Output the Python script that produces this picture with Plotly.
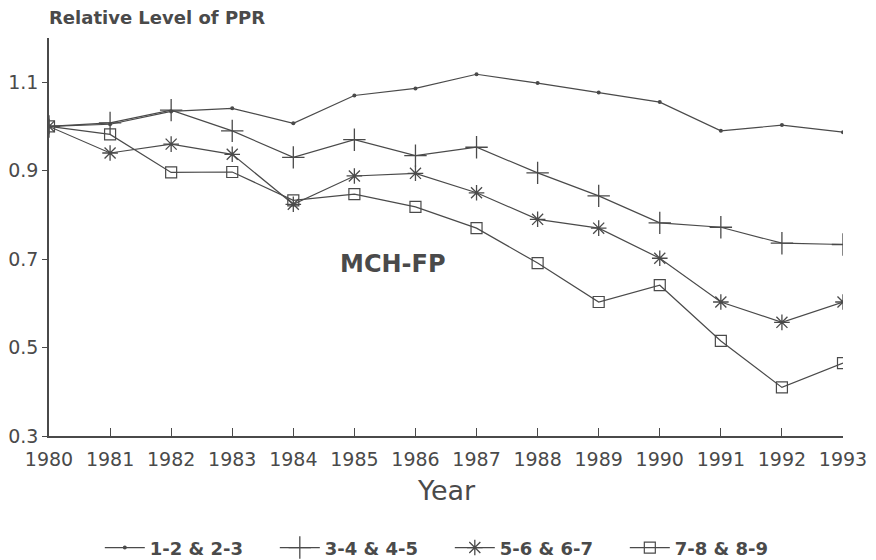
import plotly.graph_objects as go

years = list(range(1980, 1994))
s_12_23 = [1.0, 1.005, 1.034, 1.041, 1.007, 1.07, 1.086, 1.118, 1.098, 1.077, 1.055, 0.99, 1.003, 0.987]
s_34_45 = [1.0, 1.008, 1.037, 0.99, 0.93, 0.97, 0.934, 0.953, 0.895, 0.843, 0.782, 0.772, 0.736, 0.733]
s_56_67 = [1.0, 0.94, 0.96, 0.937, 0.824, 0.888, 0.894, 0.85, 0.79, 0.77, 0.702, 0.603, 0.557, 0.603]
s_78_89 = [1.0, 0.982, 0.896, 0.897, 0.833, 0.847, 0.818, 0.77, 0.691, 0.603, 0.641, 0.515, 0.41, 0.465]
series_names = ["1-2 & 2-3", "3-4 & 4-5", "5-6 & 6-7", "7-8 & 8-9"]
y_ticks = [0.3, 0.5, 0.7, 0.9, 1.1]
y_tick_text = ["0.3", "0.5", "0.7", "0.9", "1.1"]

col = "#4a4a4a"
font = "DejaVu Sans, Liberation Sans, sans-serif"

styles = [
    dict(symbol="circle", size=4, line=dict(width=0)),
    dict(symbol="cross-thin", size=16, line=dict(width=1.3, color=col)),
    dict(symbol="asterisk", size=13, line=dict(width=1.3, color=col)),
    dict(symbol="square-open", size=11, line=dict(width=1.2, color=col)),
]

fig = go.Figure()
for name, vals, st in zip(series_names, [s_12_23, s_34_45, s_56_67, s_78_89], styles):
    fig.add_trace(go.Scatter(
        x=years, y=vals, name=name, mode="lines+markers",
        line=dict(color=col, width=1.2),
        marker=dict(color=col, **st),
    ))

fig.update_layout(
    width=868, height=560,
    margin=dict(l=49, r=25, t=38, b=124, autoexpand=False),
    paper_bgcolor="white", plot_bgcolor="white",
    font=dict(family=font, color=col),
    showlegend=True,
    legend=dict(orientation="h", x=0.064, xanchor="left", y=-0.281, yanchor="middle",
                font=dict(size=18, color=col, family="DejaVu Sans", weight="bold"),
                itemwidth=40, entrywidth=120, entrywidthmode="pixels"),
    xaxis=dict(
        range=[1980, 1993], tickvals=years, ticktext=[str(y) for y in years],
        showgrid=False, zeroline=False, showline=True, linecolor=col, linewidth=1.5,
        ticks="inside", ticklen=8, tickcolor=col, ticklabelstandoff=5,
        ticklabeloverflow="allow",
        tickfont=dict(size=19, color=col),
    ),
    yaxis=dict(
        range=[0.3, 1.2], tickvals=y_ticks, ticktext=y_tick_text,
        showgrid=False, zeroline=False, showline=True, linecolor=col, linewidth=1.5,
        ticks="outside", ticklen=5, tickcolor=col,
        tickfont=dict(size=19, color=col),
    ),
    annotations=[
        dict(text="Relative Level of PPR", xref="paper", yref="paper", x=0, y=1.0,
             xshift=-2, yshift=21, xanchor="left", yanchor="middle", showarrow=False,
             font=dict(size=18, color=col, weight="bold")),
        dict(text="MCH-FP", xref="x", yref="y", x=1985.64, y=0.689, showarrow=False,
             font=dict(size=24, color=col, weight="bold")),
        dict(text="Year", xref="paper", yref="paper", x=0.5, y=-0.138,
             xanchor="center", yanchor="middle", showarrow=False,
             font=dict(size=27, color=col)),
    ],
)

fig.write_html("out.html", config={"displayModeBar": False},
               post_script="document.body.style.margin='0';")
